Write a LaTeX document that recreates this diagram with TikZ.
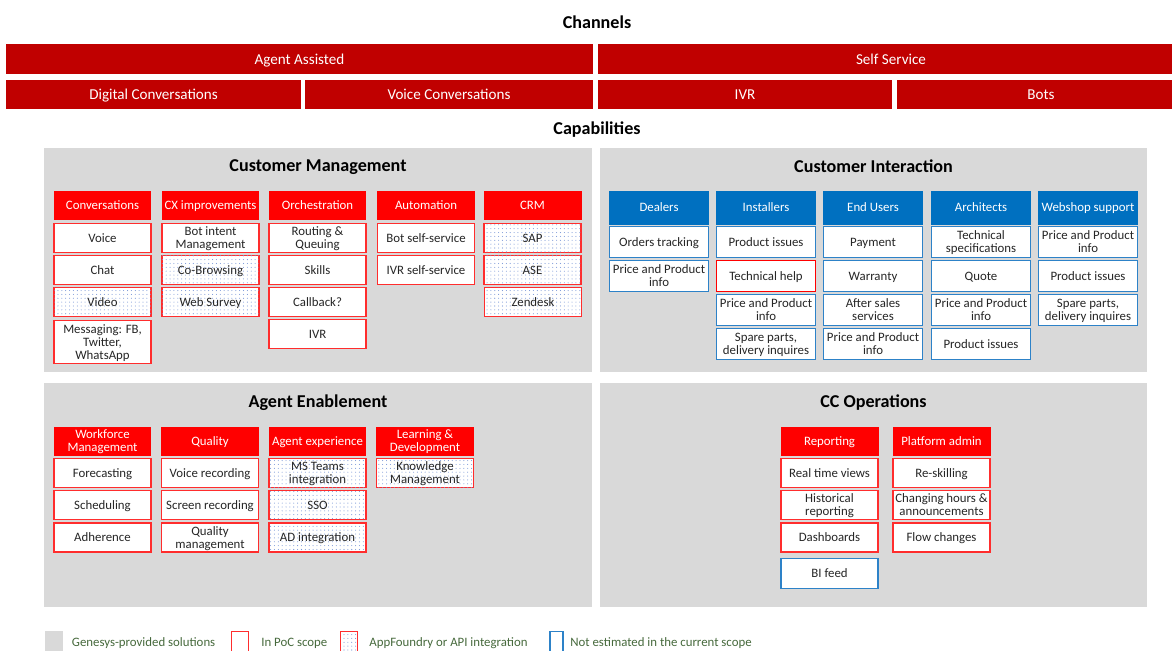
\documentclass[tikz,border=0pt]{standalone}
\usepackage{fontspec}
\setmainfont{Carlito}
\usepackage{tikz}
\usetikzlibrary{patterns.meta}

\definecolor{chanred}{RGB}{192,0,0}
\definecolor{capred}{RGB}{255,0,0}
\definecolor{pocred}{RGB}{255,45,45}
\definecolor{estblue}{RGB}{0,112,192}
\definecolor{estline}{RGB}{45,130,200}
\definecolor{panelgray}{RGB}{217,217,217}
\definecolor{celltext}{RGB}{38,38,38}
\definecolor{dotblue}{RGB}{120,150,215}
\definecolor{legendgreen}{RGB}{70,105,60}

\begin{document}
\begin{tikzpicture}[x=0.02cm, y=-0.02cm,
    bar/.style={fill=chanred, text=white, inner sep=0, text depth=0pt, minimum height=0.6cm, font=\fontsize{8.6}{9}\selectfont},
    head/.style={text=black, inner sep=0, text depth=0pt, font=\bfseries\fontsize{10.3}{11}\selectfont},
    panel/.style={fill=panelgray, inner sep=0, minimum width=10.96cm, minimum height=4.48cm},
    hdr/.style={fill=capred, text=white, inner sep=0, text depth=0pt, minimum width=1.96cm, minimum height=0.58cm, align=center, font=\fontsize{7.3}{7.4}\selectfont},
    cell/.style={draw=pocred, line width=0.8pt, fill=white, text=celltext, inner sep=0, text depth=0pt, minimum width=1.94cm, minimum height=0.58cm, align=center, font=\fontsize{7.3}{7.4}\selectfont},
    app/.style={cell, postaction={pattern={Dots[distance=2.2pt, radius=0.3pt]}, pattern color=dotblue}},
    bhdr/.style={hdr, fill=estblue, minimum width=2cm, minimum height=0.68cm},
    bcell/.style={cell, draw=estline, minimum width=1.98cm, minimum height=0.62cm},
    lgd/.style={text=legendgreen, anchor=west, inner sep=0, font=\fontsize{7.3}{8}\selectfont}]
    \useasboundingbox (0,0) rectangle (1172,650);

    \node[head] (chan) at (597,22) {Channels};
    \node[bar, minimum width=11.74cm] (agas) at (299.5,59) {Agent Assisted};
    \node[bar, minimum width=11.72cm] (selfs) at (891,59) {Self Service};
    \node[bar, minimum width=5.9cm, minimum height=0.58cm] (digc) at (153.5,94.5) {Digital Conversations};
    \node[bar, minimum width=5.76cm, minimum height=0.58cm] (voic) at (449,94.5) {Voice Conversations};
    \node[bar, minimum width=5.88cm, minimum height=0.58cm] (ivrc) at (745,94.5) {IVR};
    \node[bar, minimum width=5.76cm, minimum height=0.58cm] (bots) at (1041,94.5) {Bots};
    \node[head] (capab) at (597,128) {Capabilities};

    \node[panel] (pcm) at (318,260) {};
    \node[panel] (pci) at (873.5,260) {};
    \node[panel] (pae) at (318,495) {};
    \node[panel] (pcc) at (873.5,495) {};
    \node[head] (tcm) at (318,166) {Customer Management};
    \node[head] (tci) at (873.5,166) {Customer Interaction};
    \node[head] (tae) at (318,401) {Agent Enablement};
    \node[head] (tcc) at (873.5,401) {CC Operations};

    % Customer Management
    \node[hdr] (conv) at (102.5,205.5) {Conversations};
    \node[cell] (voice) at (102.5,238) {Voice};
    \node[cell] (chat) at (102.5,270) {Chat};
    \node[app] (video) at (102.5,302) {Video};
    \node[cell, minimum height=0.86cm] (msg) at (102.5,342) {Messaging: FB,\\Twitter,\\WhatsApp};

    \node[hdr] (cx) at (210.5,205.5) {CX improvements};
    \node[cell] (botint) at (210.5,238) {Bot intent\\Management};
    \node[app] (cobr) at (210.5,270) {Co-Browsing};
    \node[app] (websv) at (210.5,302) {Web Survey};

    \node[hdr] (orch) at (317.5,205.5) {Orchestration};
    \node[cell] (rout) at (317.5,238) {Routing \&\\Queuing};
    \node[cell] (skills) at (317.5,270) {Skills};
    \node[cell] (callb) at (317.5,302) {Callback?};
    \node[cell] (ivr) at (317.5,334) {IVR};

    \node[hdr] (autom) at (426,205.5) {Automation};
    \node[cell] (botss) at (426,238) {Bot self-service};
    \node[cell] (ivrss) at (426,270) {IVR self-service};

    \node[hdr] (crm) at (532.5,205.5) {CRM};
    \node[app] (sap) at (532.5,238) {SAP};
    \node[app] (ase) at (532.5,270) {ASE};
    \node[app] (zend) at (533,302) {Zendesk};

    % Customer Interaction
    \node[bhdr] (deal) at (659,207.5) {Dealers};
    \node[bcell] (dord) at (659,242) {Orders tracking};
    \node[bcell] (dpri) at (659,276) {Price and Product\\info};

    \node[bhdr] (inst) at (766,207.5) {Installers};
    \node[bcell] (iprod) at (766,242) {Product issues};
    \node[bcell, draw=capred] (itech) at (766,276) {Technical help};
    \node[bcell] (ipri) at (766,310) {Price and Product\\info};
    \node[bcell] (ispa) at (766,344) {Spare parts,\\delivery inquires};

    \node[bhdr] (endu) at (873,207.5) {End Users};
    \node[bcell] (epay) at (873,242) {Payment};
    \node[bcell] (ewar) at (873,276) {Warranty};
    \node[bcell] (eaft) at (873,310) {After sales\\services};
    \node[bcell] (epri) at (873,344) {Price and Product\\info};

    \node[bhdr] (arch) at (981,207.5) {Architects};
    \node[bcell] (atec) at (981,242) {Technical\\specifications};
    \node[bcell] (aquo) at (981,276) {Quote};
    \node[bcell] (apri) at (981,310) {Price and Product\\info};
    \node[bcell] (aprod) at (981,344) {Product issues};

    \node[bhdr] (websh) at (1088,207.5) {Webshop support};
    \node[bcell] (wpri) at (1088,242) {Price and Product\\info};
    \node[bcell] (wprod) at (1088,276) {Product issues};
    \node[bcell] (wspa) at (1088,310) {Spare parts,\\delivery inquires};

    % Agent Enablement
    \node[hdr] (wfm) at (102.5,441) {Workforce\\Management};
    \node[cell] (fore) at (102.5,473) {Forecasting};
    \node[cell] (sched) at (102.5,505) {Scheduling};
    \node[cell] (adh) at (102.5,537.5) {Adherence};

    \node[hdr] (qual) at (210,441) {Quality};
    \node[cell] (vrec) at (210,473) {Voice recording};
    \node[cell] (srec) at (210,505) {Screen recording};
    \node[cell] (qman) at (210,537.5) {Quality\\management};

    \node[hdr] (agex) at (317.5,441) {Agent experience};
    \node[app] (msteams) at (317.5,473) {MS Teams\\integration};
    \node[app] (sso) at (317.5,505) {SSO};
    \node[app] (adint) at (317.5,537.5) {AD integration};

    \node[hdr] (learn) at (425,441) {Learning \&\\Development};
    \node[app] (know) at (425,473) {Knowledge\\Management};

    % CC Operations
    \node[hdr] (rep) at (829.5,441) {Reporting};
    \node[cell] (rtv) at (829.5,473) {Real time views};
    \node[cell] (hist) at (829.5,505) {Historical\\reporting};
    \node[cell] (dash) at (829.5,537.5) {Dashboards};
    \node[bcell, minimum width=1.94cm, minimum height=0.6cm] (bif) at (829.5,573.5) {BI feed};

    \node[hdr] (padm) at (941.5,441) {Platform admin};
    \node[cell] (resk) at (941.5,473) {Re-skilling};
    \node[cell] (chgh) at (941.5,505) {Changing hours \&\\announcements};
    \node[cell] (flow) at (941.5,537.5) {Flow changes};

    % legend
    \node[fill=panelgray, inner sep=0, minimum width=0.36cm, minimum height=0.42cm] (lgray) at (54,641.5) {};
    \node[lgd] (tgray) at (71.6,643) {Genesys-provided solutions};
    \node[cell, minimum width=0.34cm, minimum height=0.4cm] (lpoc) at (240,641.5) {};
    \node[lgd] (tpoc) at (261,643) {In PoC scope};
    \node[app, minimum width=0.34cm, minimum height=0.4cm] (lapp) at (349,641.5) {};
    \node[lgd] (tapp) at (369,643) {AppFoundry or API integration};
    \node[cell, draw=estline, minimum width=0.26cm, minimum height=0.4cm] (lest) at (556.5,641.5) {};
    \node[lgd] (test) at (570,643) {Not estimated in the current scope};
\end{tikzpicture}
\end{document}
